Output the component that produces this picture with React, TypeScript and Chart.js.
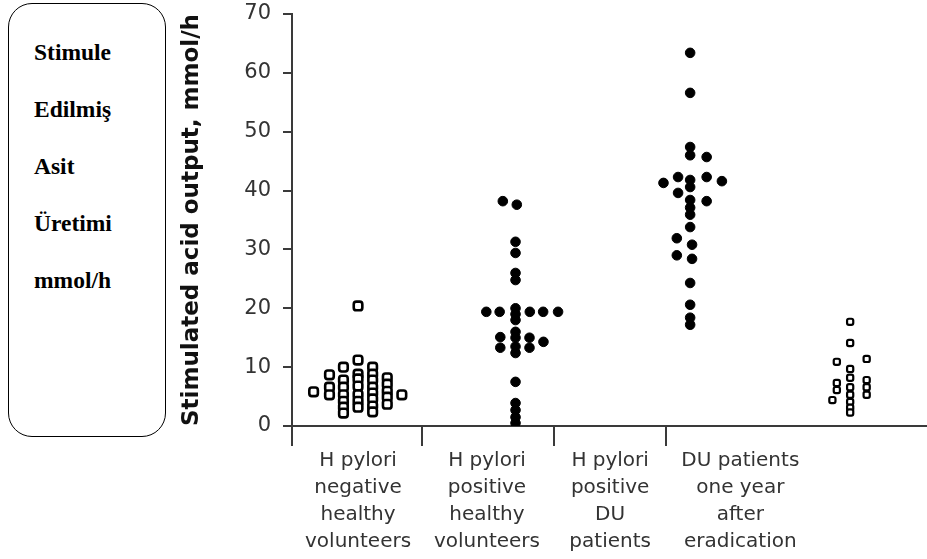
import React, { useEffect, useRef } from "react";
import { Chart, registerables } from "chart.js";
Chart.register(...registerables);

const CATEGORY_LABELS = [
  ["H pylori", "negative", "healthy", "volunteers"],
  ["H pylori", "positive", "healthy", "volunteers"],
  ["H pylori", "positive", "DU", "patients"],
  ["DU patients", "one year", "after", "eradication"],
];
const LABEL_POSITIONS = [10.4, 30.7, 50.1, 70.6];
const SEPARATOR_POSITIONS = [0, 20.5, 41.3, 58.9];
const GROUP_CENTERS = [10.4, 35.2, 62.7, 87.9];
const Y_TITLE = "Stimulated acid output, mmol/h";
const BOX_LINES = ["Stimule", "Edilmiş", "Asit", "Üretimi", "mmol/h"];

// H pylori negative healthy volunteers
const NEG_HEALTHY_VALUES = [
  5.8,
  8.7, 6.6, 5.3,
  10.0, 7.8, 6.6, 5.3, 4.2, 3.2, 2.2,
  20.4, 11.2, 8.8, 8.0, 6.8, 5.3, 4.2, 3.2,
  10.0, 8.8, 7.8, 6.6, 5.6, 4.6, 3.4, 2.4,
  8.2, 7.1, 5.9, 4.9, 3.7,
  5.3,
];
const NEG_HEALTHY_OFFSETS = [
  -7.0,
  -4.5, -4.5, -4.5,
  -2.3, -2.3, -2.3, -2.3, -2.3, -2.3, -2.3,
  0, 0, 0, 0, 0, 0, 0, 0,
  2.3, 2.3, 2.3, 2.3, 2.3, 2.3, 2.3, 2.3,
  4.6, 4.6, 4.6, 4.6, 4.6,
  6.9,
];

// H pylori positive healthy volunteers
const POS_HEALTHY_VALUES = [
  38.2, 37.6,
  31.3, 29.4,
  26.0, 24.8,
  19.4, 19.4, 19.4, 19.4, 19.4,
  20.0, 19.0, 18.0,
  15.1, 13.3, 16.0, 15.0, 13.5, 12.4, 15.0, 13.3, 14.3,
  7.5,
  3.9, 2.7, 1.5, 0.5,
];
const POS_HEALTHY_OFFSETS = [
  -2.0, 0.2,
  0, 0,
  0, 0,
  -4.6, -2.5, 2.25, 4.35, 6.7,
  0, 0, 0,
  -2.4, -2.4, 0, 0, 0, 0, 2.2, 2.2, 4.4,
  0,
  0, 0, 0, 0,
];

// H pylori positive DU patients
const DU_VALUES = [
  63.4, 56.6, 47.4, 46.0, 45.7,
  42.3, 41.3, 41.8, 40.6, 42.3, 41.6, 39.6, 38.2,
  38.4, 37.1, 35.9, 33.8,
  31.9, 30.8, 29.0, 28.4,
  24.3, 20.6, 18.4, 17.2,
];
const DU_OFFSETS = [
  0, 0, 0, 0, 2.6,
  -1.9, -4.2, 0, 0, 2.6, 5.0, -1.9, 2.6,
  0, 0, 0, 0,
  -2.1, 0.3, -2.1, 0.3,
  0, 0, 0, 0,
];

// DU patients one year after eradication
const AFTER_VALUES = [
  17.7, 14.1, 11.4, 10.9,
  9.7, 8.2, 6.6, 5.3, 4.1, 3.1, 2.3,
  7.3, 6.1, 4.4,
  7.8, 6.6, 5.3,
];
const AFTER_OFFSETS = [
  0, 0, 2.6, -2.1,
  0, 0, 0, 0, 0, 0, 0,
  -2.1, -2.1, -2.8,
  2.6, 2.6, 2.6,
];

const toPoints = (center: number, offsets: number[], values: number[]) =>
  values.map((v, i) => ({ x: center + offsets[i], y: v }));

const AXIS_COLOR = "#3a3a3a";
const TEXT_COLOR = "#333333";

export default function App() {
  const canvasRef = useRef<HTMLCanvasElement | null>(null);

  useEffect(() => {
    if (!canvasRef.current) return;
    const chart = new Chart(canvasRef.current, {
      type: "scatter",
      data: {
        datasets: [
          {
            data: toPoints(GROUP_CENTERS[0], NEG_HEALTHY_OFFSETS, NEG_HEALTHY_VALUES),
            backgroundColor: "#ffffff",
            borderColor: "#000000",
            borderWidth: 2.6,
            pointRadius: 5,
            pointStyle: "rectRounded",
          },
          {
            data: toPoints(GROUP_CENTERS[1], POS_HEALTHY_OFFSETS, POS_HEALTHY_VALUES),
            backgroundColor: "#000000",
            borderColor: "#000000",
            borderWidth: 1,
            pointRadius: 4.8,
          },
          {
            data: toPoints(GROUP_CENTERS[2], DU_OFFSETS, DU_VALUES),
            backgroundColor: "#000000",
            borderColor: "#000000",
            borderWidth: 1,
            pointRadius: 4.8,
          },
          {
            data: toPoints(GROUP_CENTERS[3], AFTER_OFFSETS, AFTER_VALUES),
            backgroundColor: "#ffffff",
            borderColor: "#000000",
            borderWidth: 2.2,
            pointRadius: 3.6,
            pointStyle: "rectRounded",
          },
        ],
      },
      options: {
        animation: false,
        responsive: true,
        maintainAspectRatio: false,
        layout: { autoPadding: false, padding: { left: 170, top: 14, right: 0, bottom: 0 } },
        plugins: { legend: { display: false }, tooltip: { enabled: false } },
        scales: {
          x: {
            type: "linear",
            position: "bottom",
            min: 0,
            max: 100,
            afterBuildTicks: (axis: any) => {
              axis.ticks = SEPARATOR_POSITIONS.map((v) => ({ value: v }));
            },
            afterFit: (axis: any) => {
              axis.height = 20;
              axis.paddingLeft = 0;
              axis.paddingRight = 0;
            },
            ticks: { display: false },
            grid: {
              display: true,
              drawOnChartArea: false,
              drawTicks: true,
              tickLength: 20,
              color: AXIS_COLOR,
              lineWidth: 2,
            },
            border: { display: true, color: AXIS_COLOR, width: 2 },
          },
          x2: {
            type: "linear",
            position: "bottom",
            min: 0,
            max: 100,
            afterBuildTicks: (axis: any) => {
              axis.ticks = LABEL_POSITIONS.map((v) => ({ value: v }));
            },
            afterFit: (axis: any) => {
              axis.height = 113;
              axis.paddingLeft = 0;
              axis.paddingRight = 0;
            },
            ticks: {
              autoSkip: false,
              maxRotation: 0,
              padding: 1,
              color: TEXT_COLOR,
              font: { family: "DejaVu Sans", size: 20, lineHeight: 1.35 },
              callback: (_v: any, i: number) => CATEGORY_LABELS[i],
            },
            grid: { display: false, drawTicks: false },
            border: { display: false },
          },
          y: {
            min: 0,
            max: 70,
            afterFit: (axis: any) => {
              axis.width = 122;
              axis.paddingTop = 0;
              axis.paddingBottom = 0;
            },
            ticks: {
              stepSize: 10,
              padding: 12,
              color: TEXT_COLOR,
              font: { family: "DejaVu Sans", size: 21 },
            },
            grid: {
              display: true,
              drawOnChartArea: false,
              drawTicks: true,
              tickLength: 9,
              color: AXIS_COLOR,
              lineWidth: 2,
            },
            border: { display: true, color: AXIS_COLOR, width: 2 },
            title: {
              display: true,
              text: Y_TITLE,
              color: "#111111",
              padding: { top: 8, bottom: 0 },
              font: { family: "DejaVu Sans", size: 23, weight: "bold", lineHeight: 1.2 },
            },
          },
        },
      } as any,
    });
    return () => chart.destroy();
  }, []);

  return (
    <div style={{ position: "fixed", left: 0, top: 0, width: 927, height: 559, background: "#fff" }}>
      <canvas ref={canvasRef} style={{ position: "absolute", left: 0, top: 0 }} />
      <div
        style={{
          position: "absolute",
          left: 8,
          top: 3,
          width: 158,
          height: 434,
          boxSizing: "border-box",
          border: "1.5px solid #000",
          borderRadius: 24,
          background: "#fff",
        }}
      >
        {BOX_LINES.map((t, i) => (
          <div
            key={i}
            style={{
              position: "absolute",
              left: 25,
              top: 20 + i * 57,
              height: 57,
              lineHeight: "57px",
              fontFamily: "'Liberation Serif', 'Times New Roman', serif",
              fontWeight: "bold",
              fontSize: 23.5,
              color: "#000",
              whiteSpace: "nowrap",
            }}
          >
            {t}
          </div>
        ))}
      </div>
    </div>
  );
}
